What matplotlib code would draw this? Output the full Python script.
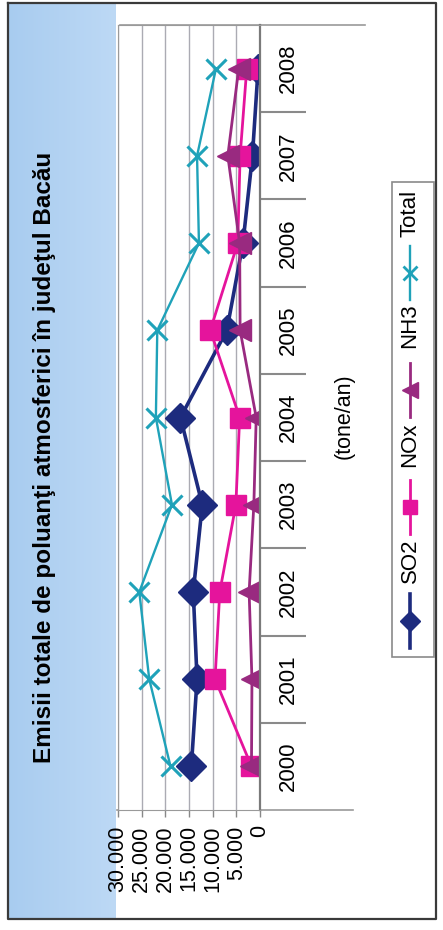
import matplotlib
matplotlib.use("Agg")
import matplotlib.pyplot as plt
import numpy as np

plt.rcParams['font.family'] = ['Liberation Sans', 'DejaVu Sans']

# date (tone/an)
years = [2000, 2001, 2002, 2003, 2004, 2005, 2006, 2007, 2008]
so2 = [14500, 13300, 14100, 12200, 16800, 7000, 3600, 1600, 400]
nox = [1800, 9500, 8500, 5100, 4300, 10500, 4700, 4200, 2800]
nh3 = [1800, 1700, 2300, 1300, 800, 4200, 4300, 6800, 4500]
total = [18900, 23400, 25500, 18600, 22000, 21700, 12900, 13300, 9300]
value_ticks = [0, 5000, 10000, 15000, 20000, 25000, 30000]

title = "Emisii totale de poluanţi atmosferici în judeţul Bacău"
unit = "(tone/an)"

series = [
    ("SO2", so2, "#1d2b7e", "D", 15, 2.6),
    ("NOx", nox, "#e5149c", "s", 15, 2.0),
    ("NH3", nh3, "#992a80", "<", 16, 2.0),
    ("Total", total, "#1fa2b9", "x", 14, 1.7),
]

W, H = 443, 930
fig = plt.figure(figsize=(W / 100, H / 100), dpi=100)

# fundal: panou albastru + rama, in coordonate pixel
bg = fig.add_axes([0, 0, 1, 1], zorder=0)
bg.set_xlim(0, W)
bg.set_ylim(H, 0)
bg.axis("off")
grad = np.linspace(0, 1, 64)[None, :, None]
c0 = np.array([0.66, 0.80, 0.94])
c1 = np.array([0.74, 0.85, 0.96])
bg.imshow(c0 + (c1 - c0) * grad, extent=(8, 116, 919, 3), aspect="auto")
bg.plot([8, 436, 436, 8, 8], [3, 3, 919, 919, 3], color="#3a3a3a", lw=1.6)
bg.plot([120, 365], [25, 25], color="#9a9a9a", lw=1.2)
bg.plot([117, 353], [810, 810], color="#9a9a9a", lw=1.2)

# graficul principal (rotit: anii pe verticala, valorile pe orizontala)
left, right, top, bottom = 118, 260, 25, 810
ax = fig.add_axes([left / W, 1 - bottom / H, (right - left) / W, (bottom - top) / H], zorder=1)
pos = np.arange(len(years))
for name, vals, col, mk, ms, lw in series:
    ax.plot(vals, pos, color=col, lw=lw, marker=mk, ms=ms, mew=2.2 if mk == "x" else 1,
            mec=col, mfc=col, label=name)

ax.set_xlim(30000, 0)
ax.set_ylim(-0.5, len(years) - 0.5)
ax.grid(axis="x", color="#ababb3", lw=1)
ax.set_axisbelow(True)

ax.set_xticks(value_ticks, [f"{v:,}".replace(",", ".") for v in value_ticks])
ax.tick_params(axis="x", length=5, width=1, color="#888888", pad=6,
               labelsize=15.5, labelrotation=90)

ax.yaxis.tick_right()
ax.set_yticks(pos, [str(y) for y in years])
ax.set_yticks(pos[:-1] + 0.5, minor=True)
ax.tick_params(axis="y", which="major", length=0, pad=13, labelsize=16, labelrotation=90)
ax.tick_params(axis="y", which="minor", length=33, width=1.5, color="#8a8a8a")
for lbl in ax.get_yticklabels():
    lbl.set_va("center")

for side in ["left", "top", "bottom"]:
    ax.spines[side].set_color("#9a9a9a")
ax.spines["right"].set_color("#7a7a7a")
ax.spines["right"].set_linewidth(1.6)

fig.text(45 / W, 1 - 457 / H, title, rotation=90, ha="center", va="center",
         fontsize=17.5, fontweight="bold")
fig.text(344 / W, 1 - 416 / H, unit, rotation=90, ha="center", va="center", fontsize=15.5)

# legenda, rotita ca si restul graficului
bg.add_patch(plt.Rectangle((392, 182), 42, 475, fill=False, ec="#8a8a8a", lw=1.2, zorder=3))
leg_pos = {"Total": (213, 273), "NH3": (326, 390), "NOx": (445, 507), "SO2": (561, 621)}
for name, vals, col, mk, ms, lw in series:
    ty, my = leg_pos[name]
    bg.text(410, ty, name, rotation=90, ha="center", va="center", fontsize=16, zorder=4)
    bg.plot([410, 410], [my - 27, my + 27], color=col, lw=lw, zorder=4)
    bg.plot([410], [my], marker=mk, ms=ms * 0.7, color=col, mec=col,
            mew=2 if mk == "x" else 1, zorder=5)

fig.savefig("out.png", dpi=100)
